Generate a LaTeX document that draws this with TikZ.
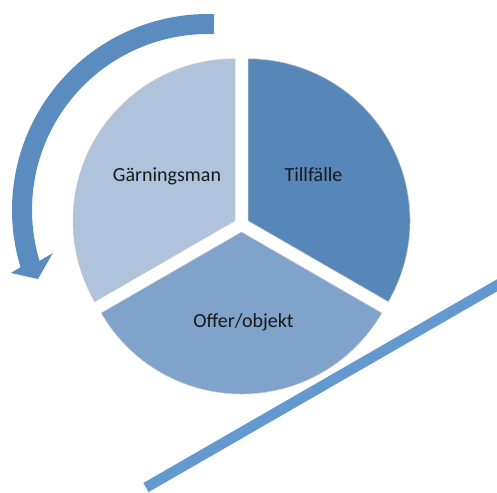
\documentclass[tikz,border=0pt]{standalone}
\usepackage{fontspec}
\setmainfont{Carlito}
\definecolor{tillc}{HTML}{5787B9}
\definecolor{garnc}{HTML}{AFC3DC}
\definecolor{offc}{HTML}{7FA3CA}
\definecolor{arrc}{HTML}{5B8CC0}
\definecolor{linec}{HTML}{6399D0}
\tikzset{
  sector/.style={draw=white!80!black, line width=0.5pt},
  lbl/.style={anchor=base, inner sep=0pt, text=black!90, font=\fontsize{20}{24}\selectfont}
}
\begin{document}
\begin{tikzpicture}[x=1pt,y=1pt]
\useasboundingbox (0,0) rectangle (497,492);
\clip (0,0) rectangle (497,492);
% pie sectors (exploded)
\coordinate (cg) at (235,271.25);
\coordinate (ct) at (248,271.25);
\coordinate (co) at (241.5,260);
\fill[garnc, sector] (cg) -- ++(90:162) arc[start angle=90, end angle=210, radius=162] -- cycle;
\fill[tillc, sector] (ct) -- ++(-30:162) arc[start angle=-30, end angle=90, radius=162] -- cycle;
\fill[offc, sector] (co) -- ++(210:162) arc[start angle=210, end angle=330, radius=162] -- cycle;
% labels
\node[lbl] (garn) at (167,310.3) {Gärningsman};
\node[lbl] (till) at (313.5,310.3) {Tillfälle};
\node[lbl] (off) at (243.5,164) {Offer/objekt};
% curved arrow
\begin{scope}[shift={(208,282)}]
\fill[arrc] (88.2:196) arc[start angle=88.2, end angle=197, radius=196]
  -- (197.7:207) -- (202.1:183.5) -- (195.5:161) -- (196.8:176)
  arc[start angle=196.8, end angle=88.1, radius=176] -- cycle;
\end{scope}
% diagonal line
\coordinate (la) at (146,4.5);
\coordinate (lb) at (515,217);
\draw[linec, line width=10.5pt] (la) -- (lb);
\end{tikzpicture}
\end{document}
